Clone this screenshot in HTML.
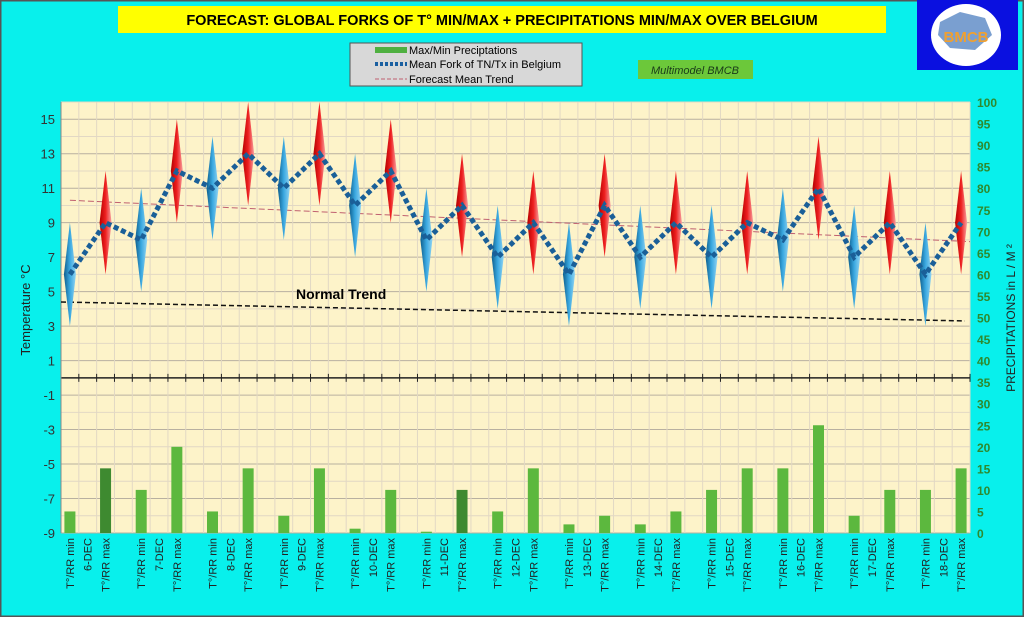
<!DOCTYPE html>
<html><head><meta charset="utf-8"><style>
body{margin:0;background:#08f0ec;font-family:"Liberation Sans",sans-serif}
#wrap{position:relative;width:1024px;height:617px;overflow:hidden}
</style></head><body>
<div id="wrap">
<svg id="svg" width="1024" height="617" xmlns="http://www.w3.org/2000/svg">
<defs>
<linearGradient id="gb" x1="0" x2="1" y1="0" y2="0"><stop offset="0" stop-color="#0e5f8e"/><stop offset="0.5" stop-color="#3aa8e0"/><stop offset="1" stop-color="#8fd3f3"/></linearGradient>
<linearGradient id="gr" x1="0" x2="1" y1="0" y2="0"><stop offset="0" stop-color="#b50000"/><stop offset="0.5" stop-color="#ee2020"/><stop offset="1" stop-color="#f7a0a0"/></linearGradient>
</defs>
<rect x="0.5" y="0.5" width="1023" height="616" fill="none" stroke="#555" stroke-width="2"/>
<rect x="118" y="6" width="768" height="27" fill="#ffff00"/>
<text x="502" y="25" text-anchor="middle" font-size="14.5" font-weight="bold" fill="#000">FORECAST: GLOBAL FORKS OF T° MIN/MAX + PRECIPITATIONS MIN/MAX OVER  BELGIUM</text>
<rect x="917" y="0" width="101" height="70" fill="#0a10e0"/>
<ellipse cx="966" cy="35" rx="35" ry="31" fill="#fff"/>
<path d="M940 22 L960 12 L985 18 L992 35 L975 50 L950 48 L938 35Z" fill="#7a9fd0"/>
<text x="966" y="42" text-anchor="middle" font-size="15" font-weight="bold" fill="#f0a030">BMCB</text>
<rect x="350" y="43" width="232" height="43" fill="#d8d8d8" stroke="#555"
/>
<g><rect x="375" y="47" width="32" height="6" fill="#4fb040"/><text x="409" y="54" font-size="11">Max/Min Preciptations</text></g>
<g><line x1="375" y1="64" x2="407" y2="64" stroke="#1a5fa0" stroke-width="4" stroke-dasharray="3,2"/><text x="409" y="68" font-size="11">Mean Fork of TN/Tx in Belgium</text></g>
<g><line x1="375" y1="79" x2="407" y2="79" stroke="#c06070" stroke-dasharray="4,2"/><text x="409" y="83" font-size="11">Forecast Mean Trend</text></g>
<rect x="638" y="60" width="115" height="19" fill="#6cc83a"/>
<text x="695" y="74" text-anchor="middle" font-size="11" font-style="italic" fill="#1a3a1a">Multimodel BMCB</text>
<g id="plot"></g>
<text transform="translate(30,310) rotate(-90)" text-anchor="middle" font-size="13" fill="#222">Temperature  °C</text>
<text transform="translate(1015,318) rotate(-90)" text-anchor="middle" font-size="12" fill="#222">PRECIPITATIONS in L / M ²</text>
</svg>
</div>
<script>
const days=['6-DEC','7-DEC','8-DEC','9-DEC','10-DEC','11-DEC','12-DEC','13-DEC','14-DEC','15-DEC','16-DEC','17-DEC','18-DEC'];
const tminMean=[6,8,11,11,10,8,7,6,7,7,8,7,6];
const tmaxMean=[9,12,13,13,12,10,9,10,9,9,11,9,9];
const spread=[3,3,3,3,3,3,3,3,3,3,3,3,3];
const rrMin=[5,10,5,4,1,0.3,5,2,2,10,15,4,10];
const rrMax=[15,20,15,15,10,10,15,4,5,15,25,10,15];
const trendEnds=[10.3,7.9];
const normalEnds=[4.4,3.3];
const tTicks=[15,13,11,9,7,5,3,1,-1,-3,-5,-7,-9];
const pTicks=[100,95,90,85,80,75,70,65,60,55,50,45,40,35,30,25,20,15,10,5,0];

const NS='http://www.w3.org/2000/svg';
const X0=61,X1=970,Y0=102,Y1=533,TMIN=-9,TMAX=16,NS_=51;
const sw=(X1-X0)/NS_;
const xs=i=>X0+(i+0.5)*sw;
const yT=t=>Y1-(t-TMIN)/(TMAX-TMIN)*(Y1-Y0);
const yP=p=>Y1-p/100*(Y1-Y0);
const g=document.getElementById('plot');
function mk(tag,a,p){const e=document.createElementNS(NS,tag);for(const k in a)e.setAttribute(k,a[k]);(p||g).appendChild(e);return e;}
let e=mk('rect',{x:X0,y:Y0,width:X1-X0,height:Y1-Y0,fill:'#fdf3c9'});


for(let t=TMIN;t<=TMAX;t++){e=mk('line',{x1:X0,x2:X1,y1:yT(t),y2:yT(t),stroke:(Math.abs(t)%2==1)?'#b8b0a0':'#e2d8c4','stroke-width':1});

}
for(let i=0;i<=NS_;i++){e=mk('line',{x1:X0+i*sw,x2:X0+i*sw,y1:Y0,y2:Y1,stroke:'#e2d8c4'});

}
// zero axis
e=mk('line',{x1:X0,x2:X1,y1:yT(0),y2:yT(0),stroke:'#222','stroke-width':1.5});


for(let i=0;i<=NS_;i++){e=mk('line',{x1:X0+i*sw,x2:X0+i*sw,y1:yT(0)-4,y2:yT(0)+4,stroke:'#222'});

}
e=mk('line',{x1:X0,x2:X0,y1:Y0,y2:Y1,stroke:'#888'});


// ticks labels
tTicks.forEach(t=>{e=mk('text',{x:X0-6,y:yT(t)+5,'text-anchor':'end','font-size':13,fill:'#333'});e.textContent=t;

});
pTicks.forEach(p=>{e=mk('text',{x:977,y:yP(p)+5,'font-size':12,'font-weight':'bold',fill:'#2e8a2e'});e.textContent=p;

});
// bars
days.forEach((d,k)=>{
 const i0=k*4,i2=k*4+2,bw=11;
 e=mk('rect',{x:xs(i0)-bw/2,y:yP(rrMin[k]),width:bw,height:Y1-yP(rrMin[k]),fill:'#5cb83e'});
 
 
 e=mk('rect',{x:xs(i2)-bw/2,y:yP(rrMax[k]),width:bw,height:Y1-yP(rrMax[k]),fill:(k==0||k==5)?'#3e8a30':'#5cb83e'});
 
 
});
// trends
e=mk('line',{x1:xs(0),x2:X1,y1:yT(trendEnds[0]),y2:yT(trendEnds[1]),stroke:'#c06070','stroke-dasharray':'6,3'});


e=mk('line',{x1:X0,x2:X1-5,y1:yT(normalEnds[0]),y2:yT(normalEnds[1]),stroke:'#111','stroke-width':1.5,'stroke-dasharray':'5,3'});


e=mk('text',{x:296,y:yT(4.4)-3,'font-size':14,'font-weight':'bold'});e.textContent='Normal Trend';


// diamonds
function diamond(x,m,s,fill,name){const hw=6;
 e=mk('path',{d:`M${x} ${yT(m+s)} L${x+hw} ${yT(m)} L${x} ${yT(m-s)} L${x-hw} ${yT(m)} Z`,fill:fill});
 
 }
let pts=[];
days.forEach((d,k)=>{pts.push([xs(k*4),yT(tminMean[k])]);pts.push([xs(k*4+2),yT(tmaxMean[k])]);});
days.forEach((d,k)=>{diamond(xs(k*4),tminMean[k],spread[k],'url(#gb)','tmin-diamond');diamond(xs(k*4+2),tmaxMean[k],spread[k],'url(#gr)','tmax-diamond');});
e=mk('polyline',{points:pts.map(p=>p.join(',')).join(' '),fill:'none',stroke:'#1a5f98','stroke-width':5,'stroke-dasharray':'5,3'});


// x labels
days.forEach((d,k)=>{
 [['T°/RR min',k*4],[d,k*4+1],['T°/RR max',k*4+2]].forEach(([s,i])=>{
  e=mk('text',{transform:`translate(${xs(i)+4},538) rotate(-90)`,'text-anchor':'end','font-size':11,fill:'#222'});e.textContent=s;
  
  
 });
});
</script>
</body></html>
